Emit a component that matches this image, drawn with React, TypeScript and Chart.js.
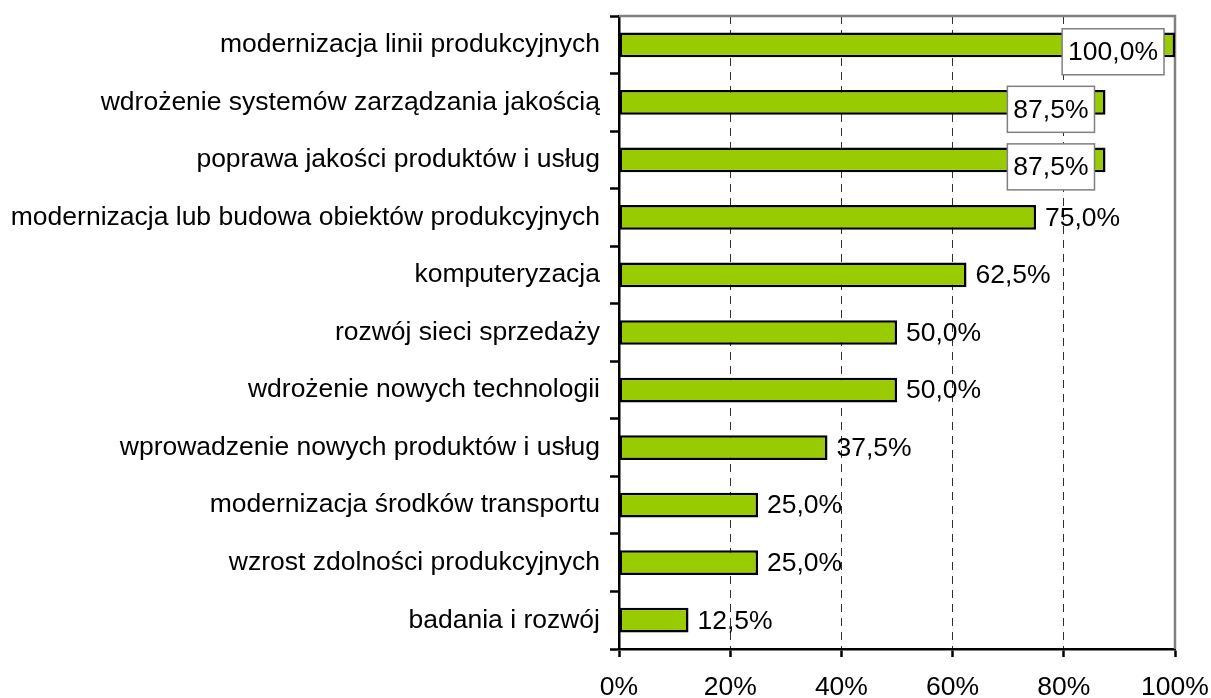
import React, { useEffect, useRef } from 'react';
import { Chart, registerables } from 'chart.js';

Chart.register(...registerables);

const categories: string[] = [
  'modernizacja linii produkcyjnych',
  'wdrożenie systemów zarządzania jakością',
  'poprawa jakości produktów i usług',
  'modernizacja lub budowa obiektów produkcyjnych',
  'komputeryzacja',
  'rozwój sieci sprzedaży',
  'wdrożenie nowych technologii',
  'wprowadzenie nowych produktów i usług',
  'modernizacja środków transportu',
  'wzrost zdolności produkcyjnych',
  'badania i rozwój',
];

const values: number[] = [100, 87.5, 87.5, 75, 62.5, 50, 50, 37.5, 25, 25, 12.5];

// labels drawn inside a white box (as in the reference)
const boxedLabels: boolean[] = [true, true, true, false, false, false, false, false, false, false, false];

const xMin = 0;
const xMax = 100;
const xStep = 20;

const FONT = '"Liberation Sans", Arial, Helvetica, sans-serif';
const FONT_SIZE = 26.5;

const fmtValue = (v: number) => v.toFixed(1).replace('.', ',') + '%';

const frameBorderPlugin = {
  id: 'frameBorder',
  beforeDatasetsDraw(chart: any) {
    const { ctx, chartArea } = chart;
    ctx.save();
    ctx.strokeStyle = '#808080';
    ctx.lineWidth = 2.5;
    ctx.beginPath();
    ctx.moveTo(chartArea.left, chartArea.top);
    ctx.lineTo(chartArea.right, chartArea.top);
    ctx.lineTo(chartArea.right, chartArea.bottom);
    ctx.stroke();
    ctx.restore();
  },
};

const valueLabelPlugin = {
  id: 'valueLabels',
  afterDatasetsDraw(chart: any) {
    const { ctx } = chart;
    const meta = chart.getDatasetMeta(0);
    ctx.save();
    ctx.font = `${FONT_SIZE}px ${FONT}`;
    ctx.textBaseline = 'middle';
    ctx.textAlign = 'left';
    meta.data.forEach((bar: any, i: number) => {
      const text = fmtValue(values[i]);
      const w = ctx.measureText(text).width;
      if (boxedLabels[i]) {
        const padX = 6;
        const h = 46;
        const right = bar.x - 11;
        const bx = right - w - 2 * padX;
        const cy = bar.y + 7;
        ctx.fillStyle = '#ffffff';
        ctx.fillRect(bx, cy - h / 2, w + 2 * padX, h);
        ctx.strokeStyle = '#808080';
        ctx.lineWidth = 1.5;
        ctx.strokeRect(bx, cy - h / 2, w + 2 * padX, h);
        ctx.fillStyle = '#000000';
        ctx.fillText(text, bx + padX, cy + 1);
      } else {
        ctx.fillStyle = '#000000';
        ctx.fillText(text, bar.x + 9, bar.y + 1);
      }
    });
    ctx.restore();
  },
};

export default function App() {
  const canvasRef = useRef<HTMLCanvasElement | null>(null);

  useEffect(() => {
    if (!canvasRef.current) return;
    Chart.defaults.font.family = FONT;
    Chart.defaults.font.size = FONT_SIZE;
    Chart.defaults.color = '#000000';

    const chart = new Chart(canvasRef.current, {
      type: 'bar',
      data: {
        labels: categories,
        datasets: [
          {
            data: values,
            backgroundColor: '#99CC00',
            borderColor: '#000000',
            borderWidth: 2.5,
            borderSkipped: false,
            barPercentage: 0.43,
            categoryPercentage: 1,
          },
        ],
      },
      options: {
        indexAxis: 'y',
        animation: false,
        responsive: false,
        maintainAspectRatio: false,
        layout: { padding: { top: 16, right: 36, left: 0, bottom: 0 } },
        plugins: {
          legend: { display: false },
          tooltip: { enabled: false },
          title: { display: false },
        },
        scales: {
          x: {
            type: 'linear',
            min: xMin,
            max: xMax,
            ticks: {
              stepSize: xStep,
              padding: 15,
              color: '#000000',
              font: { size: FONT_SIZE, family: FONT },
              callback: (v: any) => `${v}%`,
            },
            grid: {
              display: true,
              drawOnChartArea: true,
              drawTicks: true,
              tickLength: 8,
              lineWidth: 1,
              tickWidth: 2.5,
              tickColor: '#000000',
              color: (c: any) => {
                const v = c.tick ? c.tick.value : null;
                return v === xMin || v === xMax ? 'rgba(0,0,0,0)' : '#303030';
              },
            },
            border: { display: true, color: '#000000', width: 2.5, dash: [8, 6] },
            afterFit: (scale: any) => {
              scale.height = 49;
              scale.paddingLeft = 0;
              scale.paddingRight = 0;
              scale.paddingTop = 0;
              scale.paddingBottom = 0;
            },
          },
          y: {
            type: 'category',
            offset: true,
            ticks: {
              autoSkip: false,
              padding: 10,
              color: '#000000',
              font: { size: FONT_SIZE, family: FONT },
            },
            grid: {
              display: true,
              offset: true,
              drawOnChartArea: false,
              drawTicks: true,
              tickLength: 9,
              tickWidth: 2.5,
              tickColor: '#000000',
              color: '#000000',
            },
            border: { display: true, color: '#000000', width: 2.5 },
            afterFit: (scale: any) => {
              scale.width = 619;
              scale.paddingLeft = 0;
              scale.paddingRight = 0;
              scale.paddingTop = 0;
              scale.paddingBottom = 0;
            },
          },
        },
      },
      plugins: [frameBorderPlugin, valueLabelPlugin],
    });

    return () => chart.destroy();
  }, []);

  return (
    <div style={{ position: 'absolute', left: 0, top: 0, width: 1211, height: 698, background: '#ffffff' }}>
      <canvas ref={canvasRef} width={1211} height={698} style={{ display: 'block', width: 1211, height: 698 }} />
    </div>
  );
}
